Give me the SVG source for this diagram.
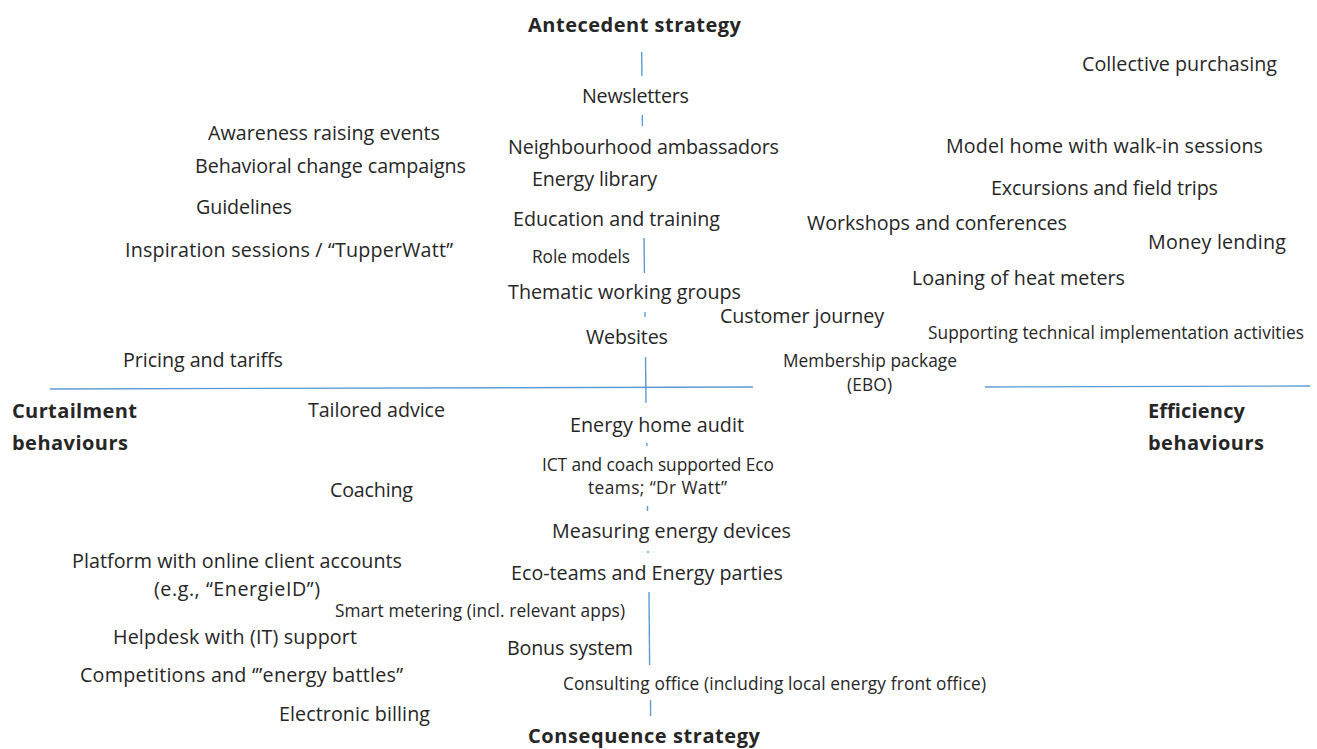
<svg xmlns="http://www.w3.org/2000/svg" width="1317" height="749" viewBox="0 0 1317 749">
<style>
  text { font-family: "Open Sans", "Liberation Sans", sans-serif; fill: #262626; }
  .n { font-size: 19.7px; }
  .s { font-size: 17.3px; }
  .b { font-size: 20px; font-weight: bold; }
  .ax { stroke: #5b9bd5; stroke-width: 1.4; fill: none; }
</style>
<rect width="1317" height="749" fill="#ffffff"/>
<g id="connectors">
  <line class="ax" x1="50" y1="389" x2="753" y2="387"/>
  <line class="ax" x1="985" y1="387" x2="1310" y2="386"/>
  <line class="ax" x1="641.7" y1="52" x2="641.9" y2="76"/>
  <line class="ax" x1="642.3" y1="115" x2="642.4" y2="126"/>
  <line class="ax" x1="644" y1="238" x2="644.4" y2="273"/>
  <line class="ax" x1="645" y1="312" x2="645" y2="317"/>
  <line class="ax" x1="645.5" y1="357" x2="646" y2="403"/>
  <line class="ax" x1="646.9" y1="443" x2="646.9" y2="446"/>
  <line class="ax" x1="647.5" y1="506" x2="647.5" y2="511"/>
  <line class="ax" x1="648" y1="551" x2="648" y2="553"/>
  <line class="ax" x1="649" y1="592" x2="649.6" y2="665"/>
  <line class="ax" x1="650.5" y1="700" x2="650.6" y2="716"/>
</g>
<g id="antecedent"><text class="b" x="528" y="32" textLength="213">Antecedent strategy</text></g>
<g id="consequence"><text class="b" x="528" y="743" textLength="232">Consequence strategy</text></g>
<g id="curtailment"><text class="b" x="12" y="418" textLength="125">Curtailment</text><text class="b" x="12" y="450" textLength="116">behaviours</text></g>
<g id="efficiency"><text class="b" x="1148" y="418" textLength="97">Efficiency</text><text class="b" x="1148" y="450" textLength="116">behaviours</text></g>

<g id="newsletters"><text class="n" x="582" y="103" textLength="107">Newsletters</text></g>
<g id="ambassadors"><text class="n" x="508" y="154" textLength="271">Neighbourhood ambassadors</text></g>
<g id="library"><text class="n" x="532" y="186" textLength="125">Energy library</text></g>
<g id="education"><text class="n" x="513" y="226" textLength="207">Education and training</text></g>
<g id="rolemodels"><text class="s" x="532" y="263" textLength="98">Role models</text></g>
<g id="thematic"><text class="n" x="508" y="299" textLength="233">Thematic working groups</text></g>
<g id="websites"><text class="n" x="586" y="344" textLength="82">Websites</text></g>
<g id="customer"><text class="n" x="720" y="323" textLength="164">Customer journey</text></g>

<g id="awareness"><text class="n" x="208" y="140" textLength="232">Awareness raising events</text></g>
<g id="behavioral"><text class="n" x="195" y="173" textLength="271">Behavioral change campaigns</text></g>
<g id="guidelines"><text class="n" x="196" y="214" textLength="96">Guidelines</text></g>
<g id="inspiration"><text class="n" x="125" y="257" textLength="328">Inspiration sessions / “TupperWatt”</text></g>
<g id="pricing"><text class="n" x="123" y="367" textLength="160">Pricing and tariffs</text></g>

<g id="collective"><text class="n" x="1082" y="71" textLength="195">Collective purchasing</text></g>
<g id="modelhome"><text class="n" x="946" y="153" textLength="317">Model home with walk-in sessions</text></g>
<g id="excursions"><text class="n" x="991" y="195" textLength="227">Excursions and field trips</text></g>
<g id="workshops"><text class="n" x="807" y="230" textLength="260">Workshops and conferences</text></g>
<g id="money"><text class="n" x="1148" y="249" textLength="138">Money lending</text></g>
<g id="loaning"><text class="n" x="912" y="285" textLength="213">Loaning of heat meters</text></g>
<g id="supporting"><text class="s" x="928" y="339" textLength="376">Supporting technical implementation activities</text></g>
<g id="membership"><text class="s" x="783" y="367" textLength="174">Membership package</text><text class="s" x="847" y="391" textLength="45">(EBO)</text></g>

<g id="tailored"><text class="n" x="308" y="417" textLength="137">Tailored advice</text></g>
<g id="audit"><text class="n" x="570" y="432" textLength="174">Energy home audit</text></g>
<g id="ict"><text class="s" x="542" y="471" textLength="232">ICT and coach supported Eco</text><text class="s" x="588" y="494" textLength="139">teams; “Dr Watt”</text></g>
<g id="coaching"><text class="n" x="330" y="497" textLength="83">Coaching</text></g>
<g id="measuring"><text class="n" x="552" y="538" textLength="239">Measuring energy devices</text></g>
<g id="ecoteams"><text class="n" x="511" y="580" textLength="272">Eco-teams and Energy parties</text></g>
<g id="platform"><text class="n" x="72" y="568" textLength="330">Platform with online client accounts</text><text class="n" x="154" y="596" textLength="166">(e.g., “EnergieID”)</text></g>
<g id="smart"><text class="s" x="335" y="617" textLength="290">Smart metering (incl. relevant apps)</text></g>
<g id="helpdesk"><text class="n" x="113" y="644" textLength="244">Helpdesk with (IT) support</text></g>
<g id="bonus"><text class="n" x="507" y="655" textLength="126">Bonus system</text></g>
<g id="competitions"><text class="n" x="80" y="682" textLength="323">Competitions and ‘”energy battles”</text></g>
<g id="consulting"><text class="s" x="563" y="690" textLength="423">Consulting office (including local energy front office)</text></g>
<g id="billing"><text class="n" x="279" y="721" textLength="151">Electronic billing</text></g>
</svg>
